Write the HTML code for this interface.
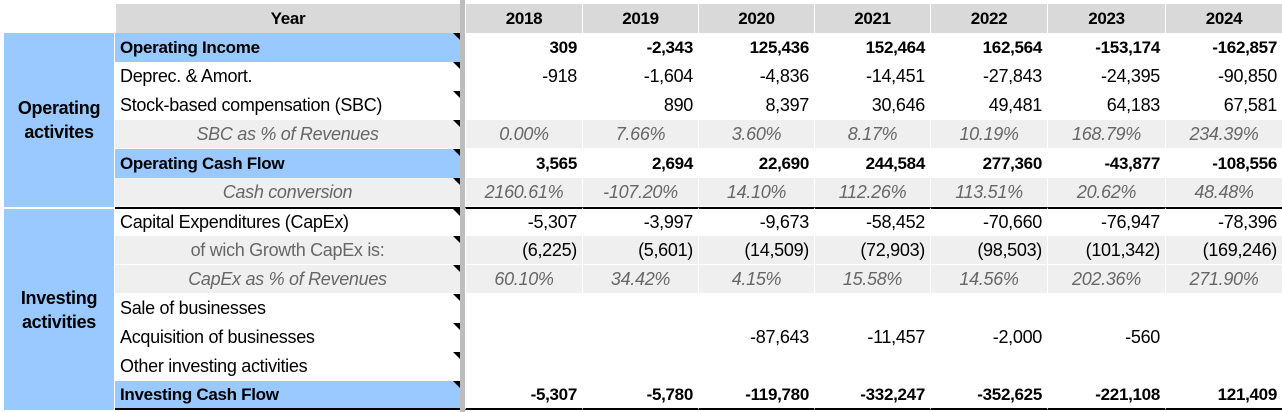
<!DOCTYPE html>
<html><head><meta charset="utf-8"><style>
*{margin:0;padding:0;box-sizing:border-box}
body{width:1282px;height:412px;background:#fff;position:relative;overflow:hidden;font-family:"Liberation Sans Narrow","Liberation Sans",sans-serif;font-size:18px;color:#000}
table{position:absolute;left:4px;top:4px;border-collapse:separate;border-spacing:0;table-layout:fixed}
td{height:29px;white-space:nowrap;overflow:hidden;padding:0 5px;vertical-align:middle;letter-spacing:-0.3px}
td.n{text-align:right;border-left:1px solid #fff}
td.sep{padding:0;background:#bdbdbd}
.hd td{background:#d9d9d9;font-weight:bold;font-size:17px;text-align:center;border-left:1px solid #fff}
.hd td.blank{background:#fff;border:none}
.bl{background:#99c9ff}
.b td{font-weight:bold;font-size:17px}
.g td{background:#efefef;border-bottom:1px solid #fff}
.g td.l{color:#666;font-style:italic;text-align:center}
.g td.p{color:#666;font-style:italic;text-align:center;border-left:1px solid #fff}
td.l{position:relative}
td.l::after{content:"";position:absolute;right:0;top:0;border-top:7px solid #000;border-left:7px solid transparent}
td.side{background:#99c9ff;font-weight:bold;text-align:center;white-space:normal;line-height:24px;font-size:18px;border-right:1px solid #fff}
.top td.bt{border-top:2px solid #000}
.last td.bb{border-bottom:2px solid #000}
</style></head><body>
<table>
<colgroup><col style="width:111px"><col style="width:345px"><col style="width:5px"><col style="width:117px"><col style="width:116px"><col style="width:116px"><col style="width:116px"><col style="width:117px"><col style="width:118px"><col style="width:117px"></colgroup>
<tr class="hd"><td class="blank"></td><td>Year</td><td class="sep"></td><td>2018</td><td>2019</td><td>2020</td><td>2021</td><td>2022</td><td>2023</td><td>2024</td></tr>
<tr class="b"><td class="side" rowspan="6">Operating<br>activites</td><td class="l bl">Operating Income</td><td class="sep"></td><td class="n">309</td><td class="n">-2,343</td><td class="n">125,436</td><td class="n">152,464</td><td class="n">162,564</td><td class="n">-153,174</td><td class="n">-162,857</td></tr>
<tr><td class="l">Deprec. &amp; Amort.</td><td class="sep"></td><td class="n">-918</td><td class="n">-1,604</td><td class="n">-4,836</td><td class="n">-14,451</td><td class="n">-27,843</td><td class="n">-24,395</td><td class="n">-90,850</td></tr>
<tr><td class="l">Stock-based compensation (SBC)</td><td class="sep"></td><td class="n"></td><td class="n">890</td><td class="n">8,397</td><td class="n">30,646</td><td class="n">49,481</td><td class="n">64,183</td><td class="n">67,581</td></tr>
<tr class="g"><td class="l">SBC as % of Revenues</td><td class="sep"></td><td class="p">0.00%</td><td class="p">7.66%</td><td class="p">3.60%</td><td class="p">8.17%</td><td class="p">10.19%</td><td class="p">168.79%</td><td class="p">234.39%</td></tr>
<tr class="b"><td class="l bl">Operating Cash Flow</td><td class="sep"></td><td class="n">3,565</td><td class="n">2,694</td><td class="n">22,690</td><td class="n">244,584</td><td class="n">277,360</td><td class="n">-43,877</td><td class="n">-108,556</td></tr>
<tr class="g"><td class="l">Cash conversion</td><td class="sep"></td><td class="p">2160.61%</td><td class="p">-107.20%</td><td class="p">14.10%</td><td class="p">112.26%</td><td class="p">113.51%</td><td class="p">20.62%</td><td class="p">48.48%</td></tr>
<tr class="top"><td class="side" rowspan="7" style="border-top:2px solid #fff">Investing<br>activities</td><td class="l bt">Capital Expenditures (CapEx)</td><td class="sep"></td><td class="n bt">-5,307</td><td class="n bt">-3,997</td><td class="n bt">-9,673</td><td class="n bt">-58,452</td><td class="n bt">-70,660</td><td class="n bt">-76,947</td><td class="n bt">-78,396</td></tr>
<tr class="g"><td class="l" style="font-style:normal">of wich Growth CapEx is:</td><td class="sep"></td><td class="n">(6,225)</td><td class="n">(5,601)</td><td class="n">(14,509)</td><td class="n">(72,903)</td><td class="n">(98,503)</td><td class="n">(101,342)</td><td class="n">(169,246)</td></tr>
<tr class="g"><td class="l">CapEx as % of Revenues</td><td class="sep"></td><td class="p">60.10%</td><td class="p">34.42%</td><td class="p">4.15%</td><td class="p">15.58%</td><td class="p">14.56%</td><td class="p">202.36%</td><td class="p">271.90%</td></tr>
<tr><td class="l">Sale of businesses</td><td class="sep"></td><td class="n"></td><td class="n"></td><td class="n"></td><td class="n"></td><td class="n"></td><td class="n"></td><td class="n"></td></tr>
<tr><td class="l">Acquisition of businesses</td><td class="sep"></td><td class="n"></td><td class="n"></td><td class="n">-87,643</td><td class="n">-11,457</td><td class="n">-2,000</td><td class="n">-560</td><td class="n"></td></tr>
<tr><td class="l">Other investing activities</td><td class="sep"></td><td class="n"></td><td class="n"></td><td class="n"></td><td class="n"></td><td class="n"></td><td class="n"></td><td class="n"></td></tr>
<tr class="b last"><td class="l bl bb">Investing Cash Flow</td><td class="sep"></td><td class="n bb">-5,307</td><td class="n bb">-5,780</td><td class="n bb">-119,780</td><td class="n bb">-332,247</td><td class="n bb">-352,625</td><td class="n bb">-221,108</td><td class="n bb">121,409</td></tr>
</table>
<div style="position:absolute;left:460px;top:0;width:5px;height:412px;background:#bdbdbd"></div>
</body></html>
